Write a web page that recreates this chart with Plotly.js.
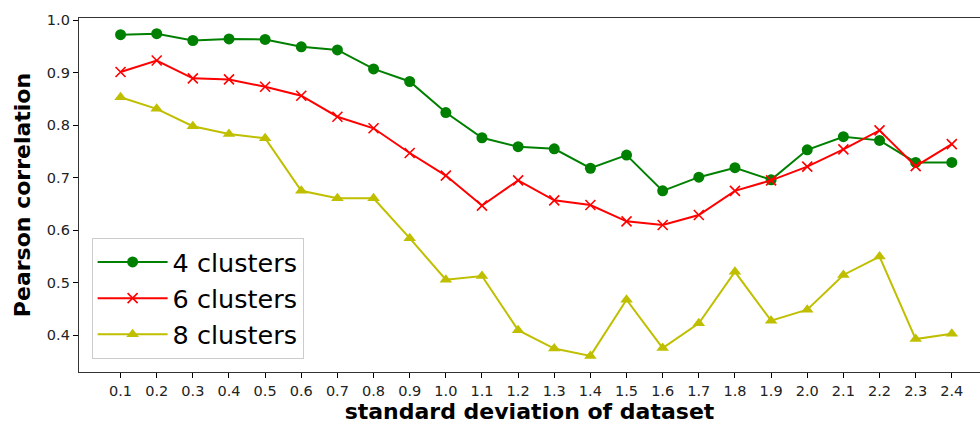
<!DOCTYPE html>
<html>
<head>
<meta charset="utf-8">
<script src="https://cdn.plot.ly/plotly-3.0.1.min.js"></script>
<style>html,body{margin:0;padding:0;background:#fff;overflow:hidden}#chart{width:980px;height:424px}</style>
</head>
<body>
<div id="chart"></div>
<script>
const stdDev = [0.1,0.2,0.3,0.4,0.5,0.6,0.7,0.8,0.9,1.0,1.1,1.2,1.3,1.4,1.5,1.6,1.7,1.8,1.9,2.0,2.1,2.2,2.3,2.4];
const clusters4 = [0.972,0.974,0.961,0.964,0.963,0.949,0.943,0.907,0.883,0.824,0.776,0.759,0.755,0.718,0.743,0.675,0.701,0.719,0.696,0.753,0.778,0.771,0.729,0.729];
const clusters6 = [0.901,0.923,0.889,0.887,0.873,0.856,0.816,0.794,0.747,0.704,0.647,0.695,0.657,0.648,0.617,0.610,0.629,0.675,0.695,0.721,0.754,0.790,0.722,0.764];
const clusters8 = [0.853,0.831,0.798,0.783,0.775,0.675,0.661,0.661,0.585,0.506,0.513,0.410,0.375,0.361,0.468,0.376,0.423,0.521,0.428,0.449,0.515,0.550,0.393,0.403];
const seriesNames = ['4 clusters','6 clusters','8 clusters'];
const xTickVals = stdDev;
const xTickText = stdDev.map(v => v.toFixed(1));
const yTickVals = [0.4,0.5,0.6,0.7,0.8,0.9,1.0];
const yTickText = ['0.4','0.5','0.6','0.7','0.8','0.9','1.0'];

const font = 'DejaVu Sans, sans-serif';
function tr(y, name, color, symbol, size) {
  return {x: stdDev, y: y, name: name, type: 'scatter', mode: 'lines+markers',
    line: {color: color, width: 2},
    marker: {color: color, symbol: symbol, size: size, line: {color: color, width: symbol === 'x-thin' ? 1.6 : 0}}};
}
const data = [
  tr(clusters4, seriesNames[0], '#008000', 'circle', 11),
  tr(clusters6, seriesNames[1], '#ff0000', 'x-thin', 10),
  tr(clusters8, seriesNames[2], '#bfbf00', 'triangle-up', 11)
];
const layout = {
  width: 980, height: 424,
  margin: {l: 79, r: 0, t: 18, b: 52, pad: 0},
  paper_bgcolor: '#fff', plot_bgcolor: '#fff',
  font: {family: font, color: '#000', size: 14},
  showlegend: true,
  legend: {x: 0.014, y: 0.037, xanchor: 'left', yanchor: 'bottom',
    bgcolor: 'rgba(255,255,255,0.8)', bordercolor: '#cccccc', borderwidth: 1,
    itemwidth: 70,
    font: {family: font, size: 25.5, color: '#000'}},
  xaxis: {range: [-0.015, 2.478], tickvals: xTickVals, ticktext: xTickText,
    ticks: 'outside', ticklen: 5, tickwidth: 1, tickcolor: '#000',
    showgrid: false, zeroline: false, showline: true, linecolor: '#333', linewidth: 1.2, mirror: true,
    tickfont: {family: font, size: 14.5, color: '#222'},
    title: {text: 'standard deviation of dataset', font: {family: font, size: 22, color: '#000', weight: 'bold'}, standoff: 9}},
  yaxis: {range: [0.3304, 1.0038], tickvals: yTickVals, ticktext: yTickText,
    ticks: 'outside', ticklen: 5, tickwidth: 1, tickcolor: '#000',
    showgrid: false, zeroline: false, showline: true, linecolor: '#333', linewidth: 1.2, mirror: false,
    tickfont: {family: font, size: 14.5, color: '#222'},
    title: {text: 'Pearson correlation', font: {family: font, size: 22, color: '#000', weight: 'bold'}, standoff: 10}}
};
Plotly.newPlot('chart', data, layout, {displayModeBar: false, staticPlot: true});
</script>
</body>
</html>
